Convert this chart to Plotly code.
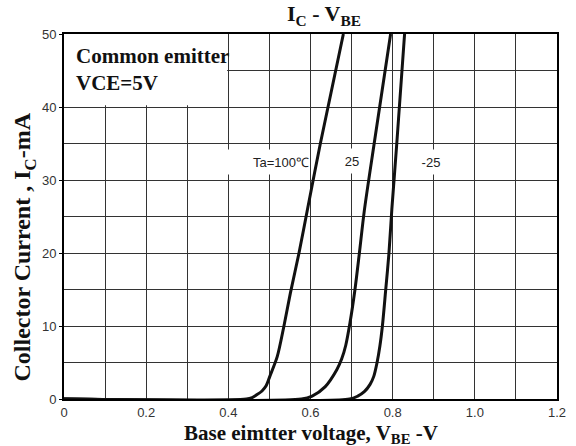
import plotly.graph_objects as go

# Data
vbe_100 = [0.0, 0.444, 0.458, 0.470, 0.482, 0.492, 0.501, 0.519, 0.535, 0.551, 0.572, 0.592, 0.624, 0.680]
ic_100 = [0.0, 0.0, 0.2, 0.6, 1.1, 1.8, 3.1, 5.8, 9.9, 14.5, 20.0, 25.8, 35.0, 50.0]

vbe_25 = [0.0, 0.578, 0.604, 0.636, 0.664, 0.676, 0.686, 0.696, 0.708, 0.719, 0.731, 0.755, 0.795]
ic_25 = [0.0, 0.0, 0.4, 1.7, 4.0, 5.5, 7.4, 10.4, 14.9, 20.0, 25.8, 35.0, 50.0]

vbe_m25 = [0.0, 0.695, 0.715, 0.731, 0.745, 0.754, 0.762, 0.769, 0.775, 0.783, 0.791, 0.798, 0.810, 0.829]
ic_m25 = [0.0, 0.0, 0.4, 1.0, 2.0, 3.1, 5.0, 7.3, 10.0, 14.9, 20.0, 26.0, 35.0, 50.0]

x_tickvals = [0, 0.2, 0.4, 0.6, 0.8, 1.0, 1.2]
x_ticktext = ["0", "0.2", "0.4", "0.6", "0.8", "1.0", "1.2"]
y_tickvals = [0, 10, 20, 30, 40, 50]
y_ticktext = ["0", "10", "20", "30", "40", "50"]

series = [(vbe_100, ic_100, "Ta=100℃"), (vbe_25, ic_25, "25"), (vbe_m25, ic_m25, "-25")]

fig = go.Figure()
for xs, ys, name in series:
    fig.add_trace(go.Scatter(x=xs, y=ys, mode="lines", name=name,
                             line=dict(color="#111111", width=3, shape="spline", smoothing=0.8),
                             showlegend=False, hoverinfo="skip"))

serif = "Liberation Serif, Times New Roman, serif"
sans = "Liberation Sans, Arial, sans-serif"
gridc = "#333333"

fig.update_layout(
    width=576, height=446,
    margin=dict(l=64, r=10, t=34, b=47),
    paper_bgcolor="white", plot_bgcolor="white",
    showlegend=False,
)
fig.update_xaxes(
    range=[0, 1.2], tickvals=x_tickvals, ticktext=x_ticktext,
    showgrid=True, gridcolor=gridc, gridwidth=1,
    minor=dict(dtick=0.1, tick0=0, showgrid=True, gridcolor=gridc, gridwidth=1),
    showline=True, linecolor="black", linewidth=2, mirror=True,
    ticks="", zeroline=False,
    tickfont=dict(family=sans, size=13, color="#333333"),
)
fig.update_yaxes(
    range=[0, 50], tickvals=y_tickvals, ticktext=y_ticktext,
    showgrid=True, gridcolor=gridc, gridwidth=1,
    minor=dict(dtick=5, tick0=0, showgrid=True, gridcolor=gridc, gridwidth=1),
    showline=True, linecolor="black", linewidth=2, mirror=True,
    ticks="outside", ticklen=3, tickcolor="black", zeroline=False,
    tickfont=dict(family=sans, size=13, color="#333333"),
)

# white panel behind the "Common emitter" note (covers the grid in that cell)
fig.add_shape(type="rect", xref="x", yref="y", x0=0.0, x1=0.397, y0=40.25, y1=50,
              fillcolor="white", line=dict(width=0), layer="between")

fig.add_annotation(x=0.024, y=45.2, xref="x", yref="y", xanchor="left", yanchor="middle",
                   text="<b>Common emitter<br>VCE=5V</b>", showarrow=False, align="left",
                   font=dict(family=serif, size=21, color="#111111"))

labels = [(0.496, 32.5, "Ta=100℃", 82, "right"), (0.702, 32.6, "25", 22, "center"),
          (0.893, 32.5, "-25", 34, "center")]
for lx, ly, lt, w, al in labels:
    fig.add_annotation(x=lx, y=ly, xref="x", yref="y", text=lt, showarrow=False,
                       bgcolor="white", width=w, height=24, borderpad=0, align=al,
                       font=dict(family=sans, size=13, color="#222222"))

# title
fig.add_annotation(x=0.528, y=1.0, xref="paper", yref="paper", yanchor="bottom", yshift=3,
                   text="<b>I<sub>C</sub> - V<sub>BE</sub></b>", showarrow=False,
                   font=dict(family=serif, size=22, color="#111111"))
# x axis title
fig.add_annotation(x=0.50, y=0, xref="paper", yref="paper", yanchor="top", yshift=-20,
                   text="<b>Base eimtter voltage, V<sub>BE</sub> -V</b>", showarrow=False,
                   font=dict(family=serif, size=21, color="#111111"))
# y axis title
fig.add_annotation(x=0, y=0.415, xref="paper", yref="paper", xanchor="center", xshift=-40,
                   text="<b>Collector Current , I<sub>C</sub>-mA</b>", showarrow=False,
                   textangle=-90, font=dict(family=serif, size=24, color="#111111"))

fig.write_html("out.html", config={"displayModeBar": False},
               post_script="document.body.style.margin='0';document.body.style.overflow='hidden';")
